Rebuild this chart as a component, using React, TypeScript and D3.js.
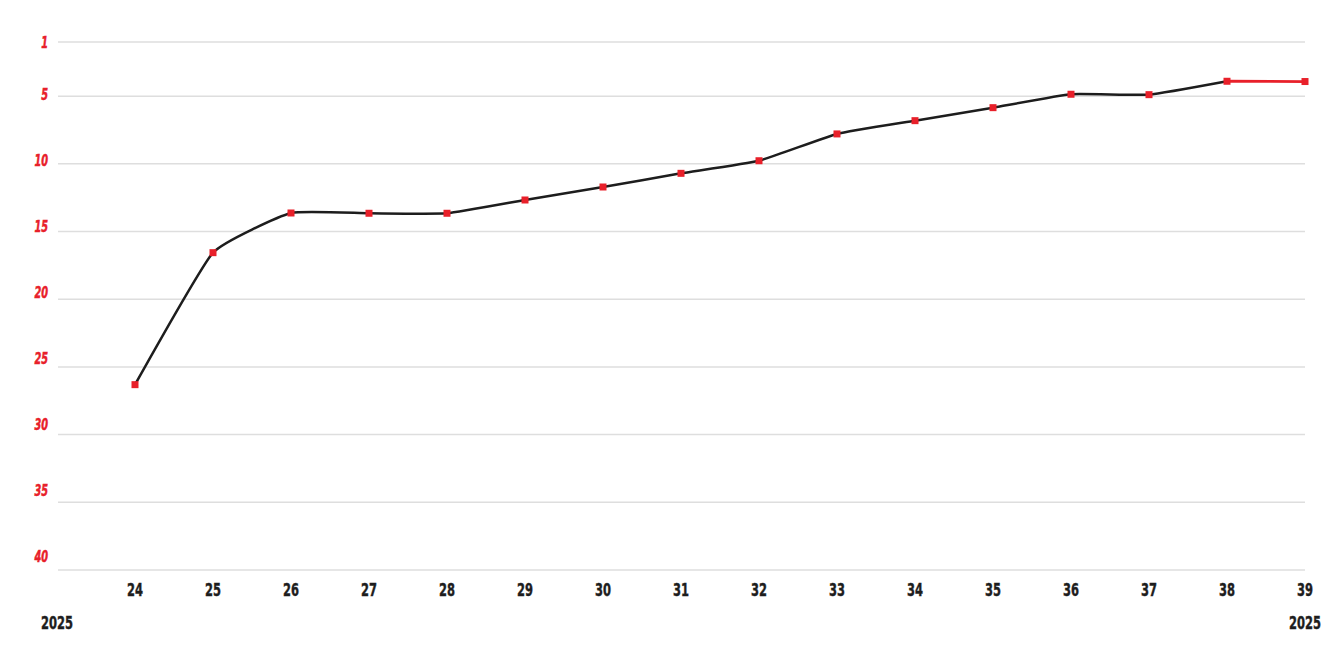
import React from "react";
import * as d3 from "d3";

const weeks: number[] = [24, 25, 26, 27, 28, 29, 30, 31, 32, 33, 34, 35, 36, 37, 38, 39];
const ranks: number[] = [26.31, 16.56, 13.63, 13.65, 13.65, 12.67, 11.71, 10.7, 9.77, 7.79, 6.81, 5.85, 4.86, 4.89, 3.9, 3.92];
const yTicks: number[] = [1, 5, 10, 15, 20, 25, 30, 35, 40];
const yearLabels: string[] = ["2025", "2025"];

const W = 1333;
const H = 666;
const RED = "#e8202a";
const DARK = "#1d1d1d";
const FONT = "'DejaVu Sans Condensed', 'DejaVu Sans', sans-serif";

export default function App() {
  const x = d3.scaleLinear().domain([24, 39]).range([135, 1305]);
  const y = d3.scaleLinear().domain([1, 40]).range([42, 570]);
  const yLabel = d3.scaleLinear().domain([1, 40]).range([42, 556]);
  const pts: [number, number][] = weeks.map((w, i) => [x(w), y(ranks[i])]);
  const line = d3.line<[number, number]>().curve(d3.curveCardinal.tension(0.6));
  const n = pts.length;
  const blackPath = line(pts.slice(0, n - 1)) || "";
  const redPath = d3.line<[number, number]>()(pts.slice(n - 2)) || "";

  return (
    <div style={{ position: "absolute", left: 0, top: 0 }}>
      <svg width={W} height={H} style={{ display: "block", background: "#fff" }}>
        {yTicks.map((t) => (
          <line key={"g" + t} x1={58} x2={1305} y1={y(t)} y2={y(t)} stroke="#dedede" strokeWidth={1.5} />
        ))}
        {yTicks.map((t) => (
          <text
            key={"l" + t}
            x={48}
            y={yLabel(t)}
            dy="0.36em"
            textAnchor="end"
            fill={RED}
            stroke={RED}
            strokeWidth={0.5}
            fontFamily={FONT}
            fontWeight={700}
            fontStyle="italic"
            fontSize={16}
            textLength={String(t).length * 6.8}
            lengthAdjust="spacingAndGlyphs"
          >
            {t}
          </text>
        ))}
        {weeks.map((w) => (
          <text
            key={w}
            x={x(w)}
            y={590}
            dy="0.36em"
            textAnchor="middle"
            fill={DARK}
            stroke={DARK}
            strokeWidth={0.4}
            fontFamily={FONT}
            fontWeight={700}
            fontSize={17}
            textLength={16}
            lengthAdjust="spacingAndGlyphs"
          >
            {w}
          </text>
        ))}
        <text x={41} y={623} dy="0.36em" textAnchor="start" fill={DARK} stroke={DARK} strokeWidth={0.4} fontFamily={FONT} fontWeight={700} fontSize={17}
          textLength={32} lengthAdjust="spacingAndGlyphs">
          {yearLabels[0]}
        </text>
        <text x={1321} y={623} dy="0.36em" textAnchor="end" fill={DARK} stroke={DARK} strokeWidth={0.4} fontFamily={FONT} fontWeight={700} fontSize={17}
          textLength={32} lengthAdjust="spacingAndGlyphs">
          {yearLabels[1]}
        </text>
        <path d={blackPath} fill="none" stroke={DARK} strokeWidth={2.5} strokeLinejoin="round" />
        <path d={redPath} fill="none" stroke={RED} strokeWidth={2.8} strokeLinejoin="round" />
        {pts.map(([px, py], i) => (
          <rect key={i} x={px - 3.5} y={py - 3.5} width={7} height={7} fill={RED} />
        ))}
      </svg>
    </div>
  );
}
